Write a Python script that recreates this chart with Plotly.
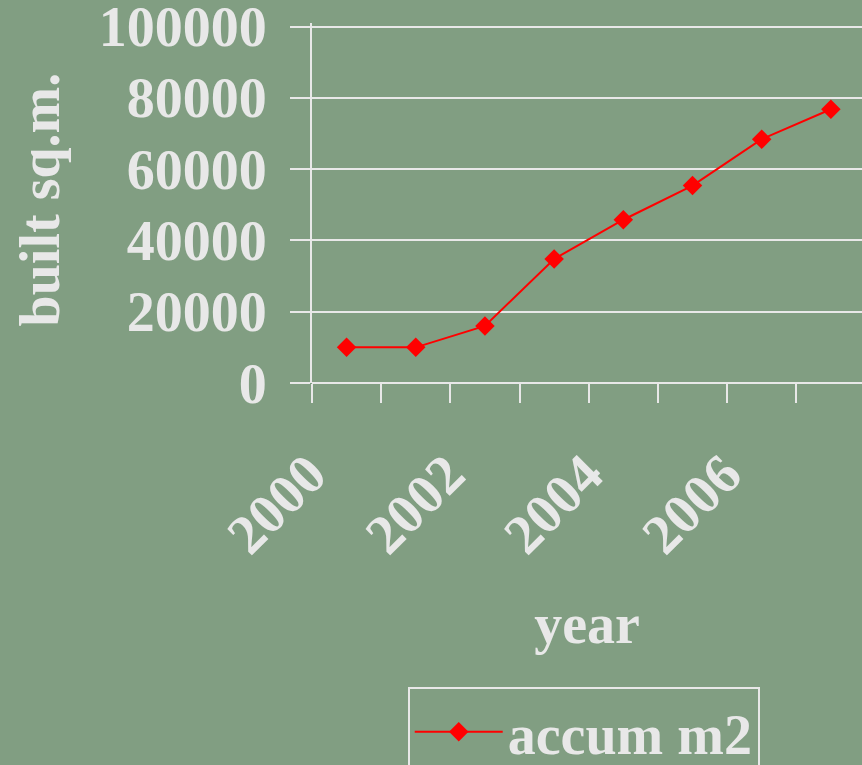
import plotly.graph_objects as go

years = [2000, 2001, 2002, 2003, 2004, 2005, 2006, 2007]
accum_m2 = [10000, 10000, 16000, 34800, 45800, 55400, 68400, 76800]
label_years = [2000, 2002, 2004, 2006]
y_ticks = [0, 20000, 40000, 60000, 80000, 100000]
x_title = "year"
y_title = "built sq.m."

BG = "#819E82"
FG = "#E8E8E8"
FONT = "Liberation Serif"
FS = 56

idx = list(range(len(years)))
label_idx = [years.index(y) for y in label_years]
bounds = [i - 0.5 for i in range(len(years) + 1)]

fig = go.Figure()
fig.add_trace(go.Scatter(
    x=idx, y=accum_m2, mode="lines+markers", name="accum m2",
    line=dict(color="#FF0000", width=2),
    marker=dict(symbol="diamond", size=15, color="#FF0000"),
))

fig.update_layout(
    width=862, height=765,
    paper_bgcolor=BG, plot_bgcolor=BG,
    margin=dict(l=312, r=0, t=23, b=382, autoexpand=False),
    font=dict(family=FONT, color=FG, size=FS, weight="bold"),
    showlegend=True,
    legend=dict(
        xref="container", yref="container", x=0.473, y=0.102,
        xanchor="left", yanchor="top",
        bgcolor=BG, bordercolor=FG, borderwidth=2,
        font=dict(family=FONT, size=FS, color=FG, weight="bold"),
        itemwidth=88,
    ),
    annotations=[dict(
        text=y_title, textangle=-90, showarrow=False,
        xref="paper", yref="paper", x=-0.4945, y=0.51,
        xanchor="center", yanchor="middle",
        font=dict(family=FONT, size=FS, color=FG, weight="bold"),
    )],
)

fig.update_xaxes(
    automargin=True,
    range=[-0.5, 7.45],
    tickmode="array", tickvals=label_idx, ticktext=[str(y) for y in label_years],
    tickangle=-45, ticks="", showgrid=False, zeroline=False,
    showline=False,
    tickfont=dict(family=FONT, size=FS, color=FG, weight="bold"),
    ticklabelshift=-37, ticklabelstandoff=46,
    minor=dict(tickmode="array", tickvals=bounds, ticks="outside", ticklen=19,
               tickwidth=2, tickcolor=FG, showgrid=False),
    title=dict(text=x_title, standoff=39,
               font=dict(family=FONT, size=FS, color=FG, weight="bold")),
)
fig.update_yaxes(
    automargin=False,
    range=[0, 101000], tickmode="array", tickvals=y_ticks,
    ticktext=[str(v) for v in y_ticks],
    ticks="outside", ticklen=20, tickwidth=2, tickcolor=FG,
    showgrid=True, gridcolor=FG, gridwidth=2,
    zeroline=True, zerolinecolor=FG, zerolinewidth=2,
    showline=True, linecolor=FG, linewidth=2,
    tickfont=dict(family=FONT, size=FS, color=FG, weight="bold"),
    ticklabelstandoff=12, ticklabeloverflow="allow",
)

fig.write_html("out.html")
